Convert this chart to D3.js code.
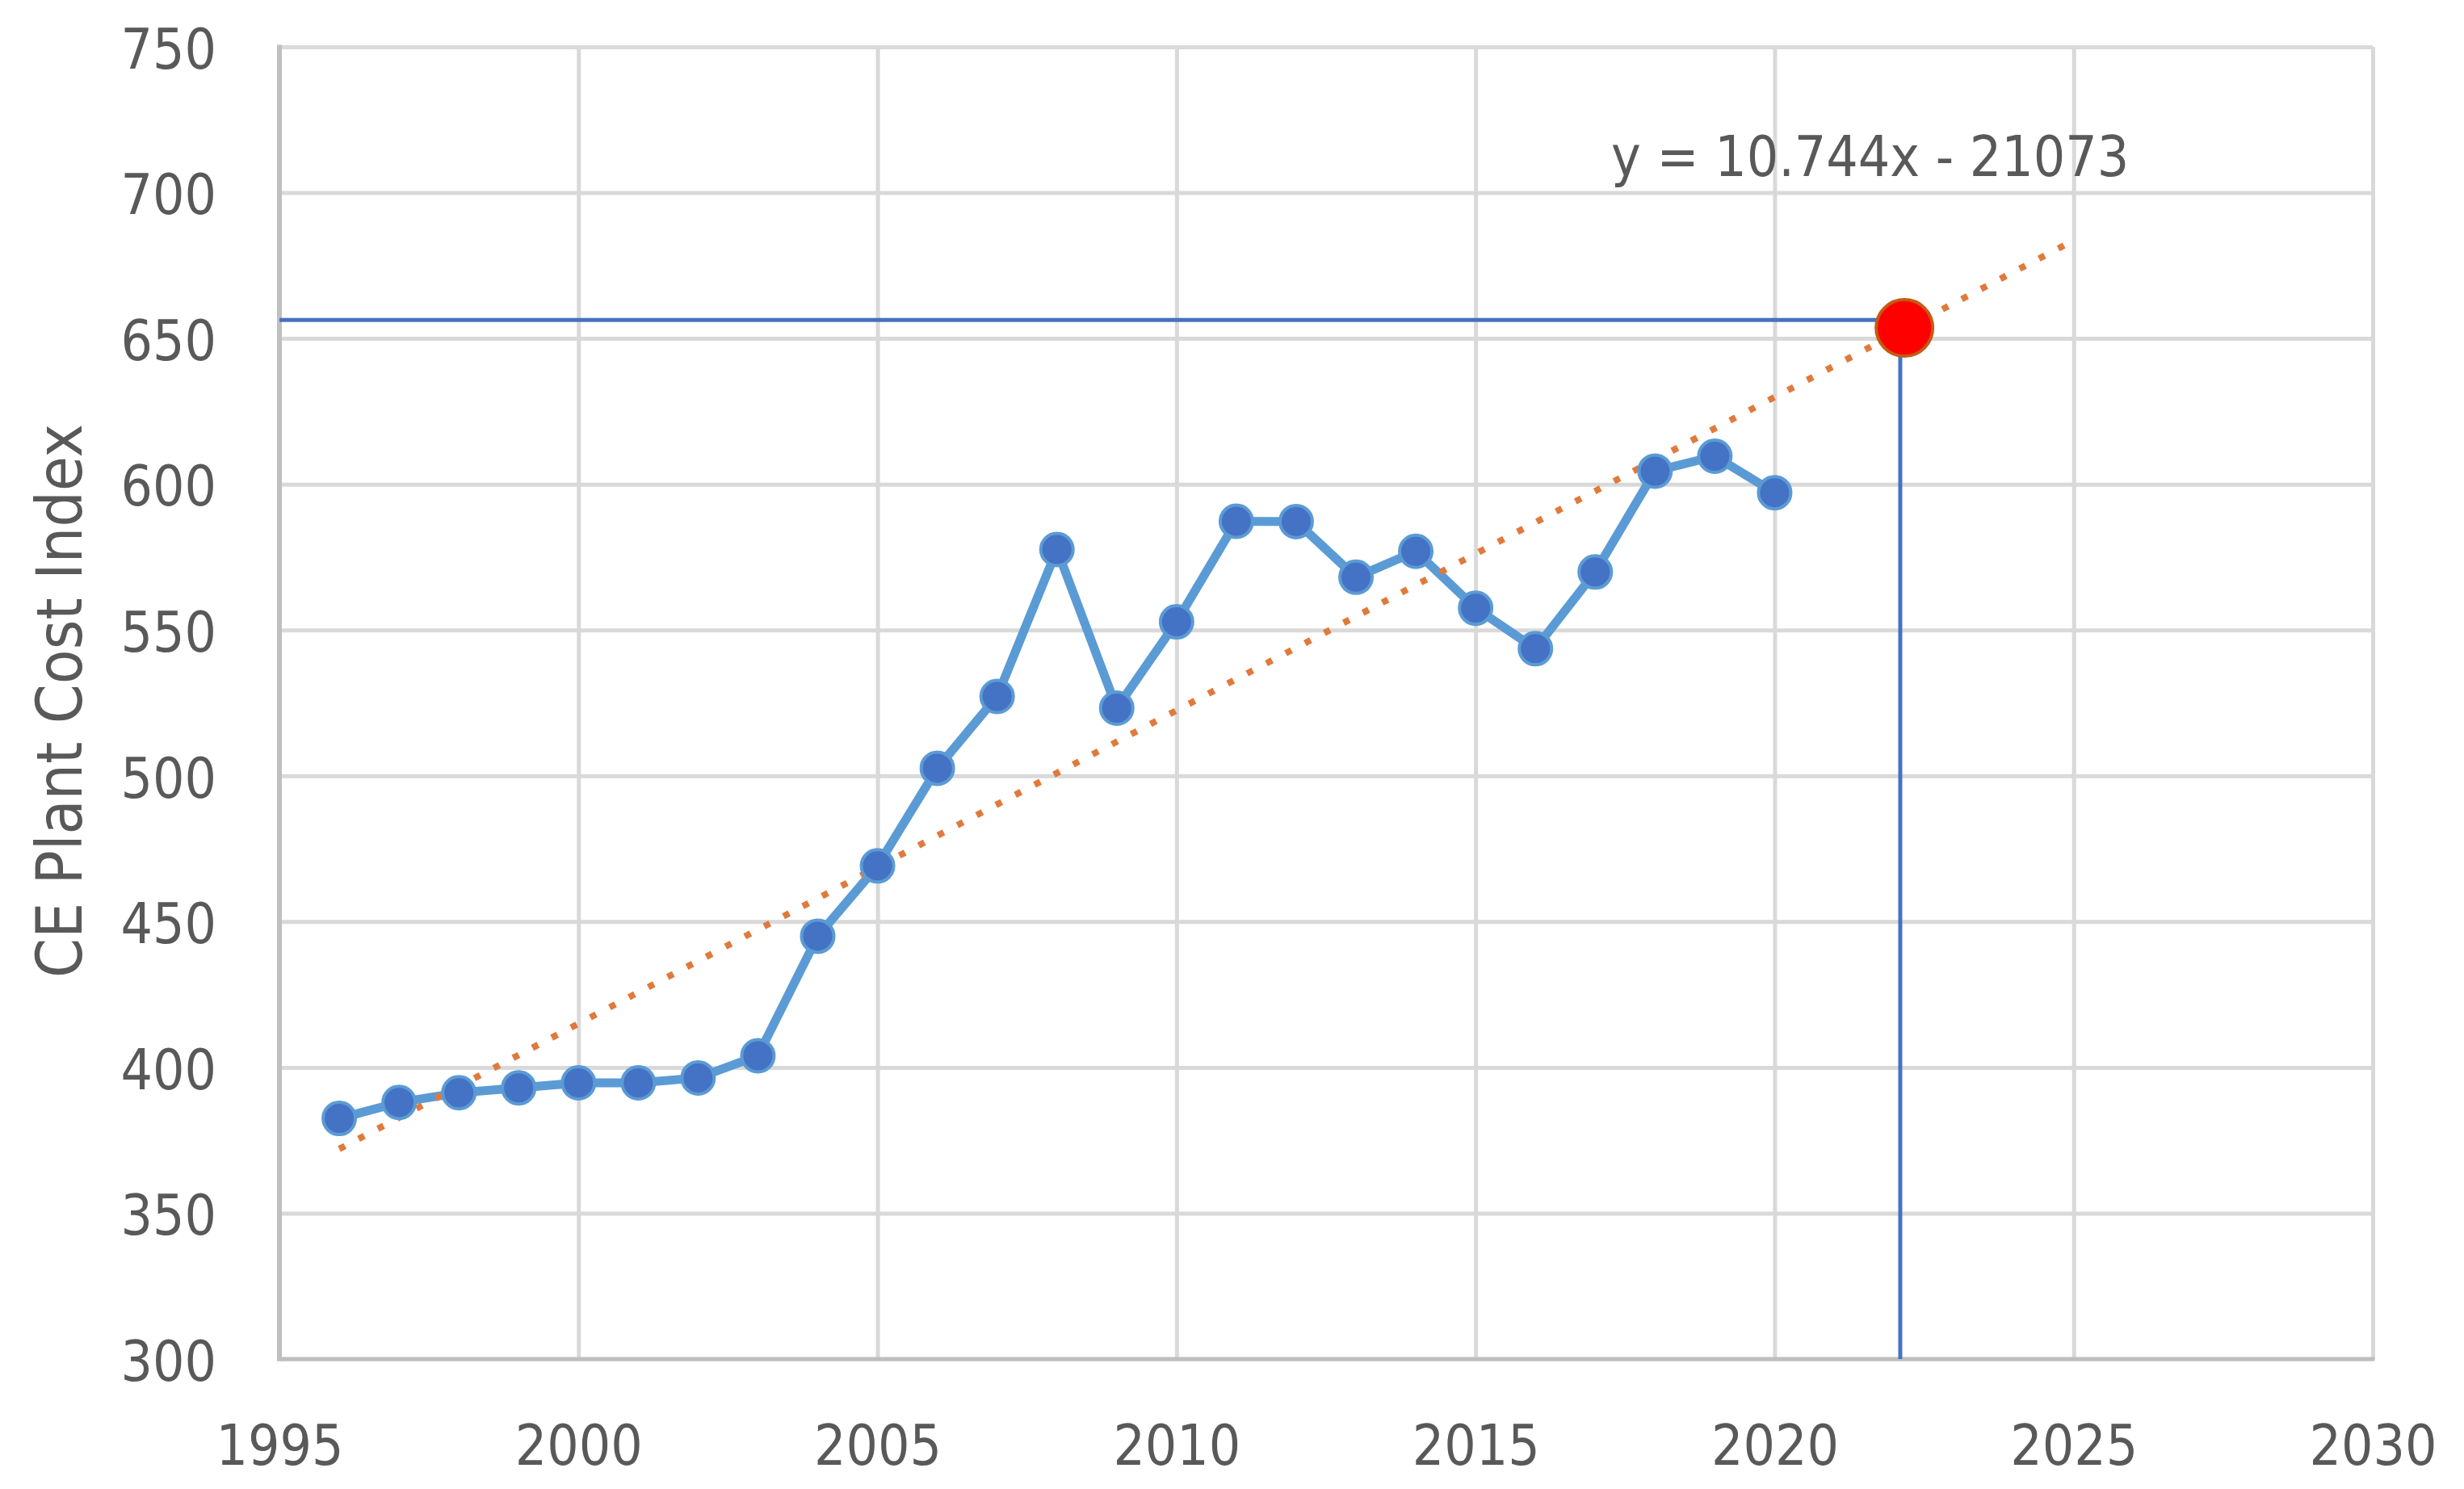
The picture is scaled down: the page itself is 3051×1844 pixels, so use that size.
<!DOCTYPE html>
<html>
<head>
<meta charset="utf-8">
<script src="https://cdn.jsdelivr.net/npm/d3@7"></script>
<style>
  html, body { margin: 0; padding: 0; background: #ffffff; }
  svg text { font-family: "DejaVu Sans Condensed", "DejaVu Sans", sans-serif; font-stretch: condensed; fill: #595959; }
</style>
</head>
<body>
<svg id="chart" width="3051" height="1844"></svg>
<script>
// ---- data ----
const years = [1996, 1997, 1998, 1999, 2000, 2001, 2002, 2003, 2004, 2005, 2006, 2007, 2008,
               2009, 2010, 2011, 2012, 2013, 2014, 2015, 2016, 2017, 2018, 2019, 2020];
const cepci = [382.5, 388.0, 391.3, 393.0, 394.7, 394.7, 396.4, 404.0, 445.0, 469.1, 502.6, 527.2, 577.6,
               523.2, 552.8, 587.3, 587.2, 568.1, 577.0, 557.5, 543.6, 569.9, 604.5, 609.6, 597.1];
const xTicks = [1995, 2000, 2005, 2010, 2015, 2020, 2025, 2030];
const yTicks = [300, 350, 400, 450, 500, 550, 600, 650, 700, 750];
const trendSlope = 10.744;
const trendIntercept = -21073;
const trendYears = [1996, 2025];
const trendLabel = "y = 10.744x - 21073";
const forecastYear = 2022.17;
const forecastValue = 653.6;
const guideYear = 2022.1;
const guideValue = 656.3;
const yTitle = "CE Plant Cost Index";

// ---- layout ----
const svg = d3.select("#chart");
const pLeft = 346, pRight = 2938, pTop = 58, pBottom = 1683;
const x = d3.scaleLinear().domain([1995, 2030]).range([pLeft, pRight]);
const y = d3.scaleLinear().domain([300, 750]).range([pBottom, pTop]);

// gridlines
const gy = svg.append("g").attr("transform", `translate(${pLeft},0)`)
  .call(d3.axisLeft(y).tickValues(yTicks).tickSize(-(pRight - pLeft)).tickFormat(""));
gy.select(".domain").remove();
gy.selectAll("line").attr("stroke", "#d9d9d9").attr("stroke-width", 5);

const gx = svg.append("g").attr("transform", `translate(0,${pBottom})`)
  .call(d3.axisBottom(x).tickValues(xTicks).tickSize(-(pBottom - pTop)).tickFormat(""));
gx.select(".domain").remove();
gx.selectAll("line").attr("stroke", "#d9d9d9").attr("stroke-width", 5);

// axis lines
svg.append("line").attr("x1", x(1995)).attr("x2", x(1995)).attr("y1", y(750) - 2.5).attr("y2", y(300) + 2.5)
  .attr("stroke", "#bfbfbf").attr("stroke-width", 6);
svg.append("line").attr("x1", x(1995) - 3).attr("x2", x(2030) + 2.5).attr("y1", y(300)).attr("y2", y(300))
  .attr("stroke", "#bfbfbf").attr("stroke-width", 5);

// tick labels
const ly = svg.append("g").attr("transform", `translate(${pLeft},0)`)
  .call(d3.axisLeft(y).tickValues(yTicks).tickSize(0).tickPadding(78).tickFormat(d3.format("d")));
ly.select(".domain").remove();
ly.selectAll("text").attr("font-size", 69).attr("fill", "#595959").attr("dy", "0.38em");

const lx = svg.append("g").attr("transform", `translate(0,${pBottom})`)
  .call(d3.axisBottom(x).tickValues(xTicks).tickSize(0).tickPadding(82).tickFormat(d3.format("d")));
lx.select(".domain").remove();
lx.selectAll("text").attr("font-size", 69).attr("fill", "#595959");

// y title
svg.append("text")
  .attr("transform", `translate(101,${868}) rotate(-90)`)
  .attr("text-anchor", "middle")
  .attr("font-size", 78)
  .text(yTitle);

// guide lines (blue)
svg.append("line").attr("x1", x(1995)).attr("x2", x(guideYear)).attr("y1", y(guideValue)).attr("y2", y(guideValue))
  .attr("stroke", "#4472C4").attr("stroke-width", 5);
svg.append("line").attr("x1", x(guideYear)).attr("x2", x(guideYear)).attr("y1", y(forecastValue)).attr("y2", y(300))
  .attr("stroke", "#4472C4").attr("stroke-width", 5);

// data line
const data = years.map((yr, i) => ({ yr, v: cepci[i] }));
svg.append("path").datum(data)
  .attr("fill", "none").attr("stroke", "#5B9BD5").attr("stroke-width", 11).attr("stroke-linejoin", "round")
  .attr("d", d3.line().x(d => x(d.yr)).y(d => y(d.v)));

// trendline
const trend = trendYears.map(yr => ({ yr, v: trendSlope * yr + trendIntercept }));
svg.append("path").datum(trend)
  .attr("fill", "none").attr("stroke", "#E07A3C").attr("stroke-width", 8).attr("stroke-dasharray", "8 19")
  .attr("d", d3.line().x(d => x(d.yr)).y(d => y(d.v)));

// markers
svg.append("g").selectAll("circle").data(data).join("circle")
  .attr("cx", d => x(d.yr)).attr("cy", d => y(d.v)).attr("r", 20)
  .attr("fill", "#4472C4").attr("stroke", "#5B9BD5").attr("stroke-width", 4);

// forecast point
svg.append("circle").attr("cx", x(forecastYear)).attr("cy", y(forecastValue)).attr("r", 35)
  .attr("fill", "#FF0000").attr("stroke", "#C55A11").attr("stroke-width", 4);

// equation label
svg.append("text").attr("x", 1995).attr("y", 218).attr("font-size", 69).text(trendLabel);
</script>
</body>
</html>
